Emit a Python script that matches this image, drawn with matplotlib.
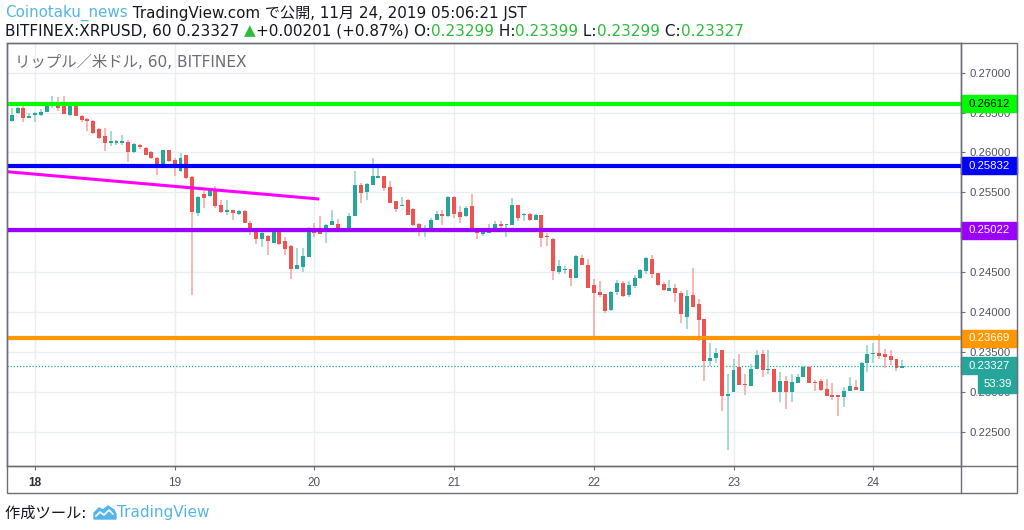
import matplotlib
matplotlib.use("Agg")
import matplotlib.pyplot as plt
import matplotlib.dates as mdates
from matplotlib.patches import Rectangle, Polygon
from matplotlib.lines import Line2D
import numpy as np
import pandas as pd

plt.rcParams['font.family'] = ['DejaVu Sans', 'Noto Sans CJK JP']

# hourly XRPUSD candles, 2019-11-17 20:00 .. 2019-11-24 05:00
opens = [0.26396, 0.26492, 0.26555, 0.26438, 0.26467, 0.26471, 0.26505, 0.26588, 0.26596, 0.26596,
         0.26471, 0.26584, 0.26463, 0.26417, 0.26400, 0.26292, 0.26209, 0.26117, 0.26117, 0.26117,
         0.26125, 0.26004, 0.26096, 0.26054, 0.26009, 0.25929, 0.25846, 0.26026, 0.25900, 0.25763,
         0.25963, 0.25688, 0.25242, 0.25480, 0.25450, 0.25546, 0.25346, 0.25250, 0.25275, 0.25229,
         0.25263, 0.25117, 0.25042, 0.24917, 0.24959, 0.24867, 0.25013, 0.24888, 0.24825, 0.24542,
         0.24563, 0.24692, 0.25054, 0.25034, 0.25034, 0.25088, 0.25109, 0.25030, 0.25034, 0.25209,
         0.25596, 0.25504, 0.25596, 0.25680, 0.25700, 0.25563, 0.25388, 0.25325, 0.25409, 0.25292,
         0.25109, 0.25034, 0.25055, 0.25150, 0.25234, 0.25200, 0.25442, 0.25250, 0.25200, 0.25334,
         0.25034, 0.24984, 0.24992, 0.25034, 0.25109, 0.25096, 0.25096, 0.25346, 0.25213, 0.25234,
         0.25159, 0.25213, 0.24959, 0.24921, 0.24500, 0.24525, 0.24534, 0.24430, 0.24680, 0.24588,
         0.24334, 0.24250, 0.24221, 0.24025, 0.24250, 0.24367, 0.24209, 0.24325, 0.24430, 0.24513,
         0.24667, 0.24484, 0.24346, 0.24263, 0.24296, 0.24242, 0.23942, 0.24209, 0.24096, 0.23917,
         0.23388, 0.23421, 0.23521, 0.22950, 0.23000, 0.23313, 0.23096, 0.23075, 0.23292, 0.23471,
         0.23275, 0.23284, 0.22992, 0.23130, 0.22992, 0.23105, 0.23180, 0.23313, 0.23125, 0.23138,
         0.23034, 0.22959, 0.22959, 0.22930, 0.23005, 0.23063, 0.23013, 0.23367, 0.23471, 0.23492,
         0.23480, 0.23450, 0.23409, 0.23299]
highs = [0.26555, 0.26567, 0.26584, 0.26500, 0.26513, 0.26542, 0.26617, 0.26709, 0.26700, 0.26709,
         0.26617, 0.26600, 0.26471, 0.26430, 0.26409, 0.26305, 0.26304, 0.26263, 0.26159, 0.26221,
         0.26159, 0.26117, 0.26109, 0.26063, 0.26013, 0.25938, 0.26034, 0.26034, 0.25930, 0.25992,
         0.25971, 0.25700, 0.25459, 0.25513, 0.25554, 0.25584, 0.25409, 0.25409, 0.25284, 0.25284,
         0.25275, 0.25138, 0.25054, 0.25054, 0.24971, 0.25034, 0.25025, 0.24938, 0.24834, 0.24805,
         0.24805, 0.25067, 0.25117, 0.25200, 0.25105, 0.25284, 0.25167, 0.25045, 0.25242, 0.25763,
         0.25617, 0.25617, 0.25930, 0.25805, 0.25700, 0.25638, 0.25388, 0.25442, 0.25417, 0.25304,
         0.25117, 0.25096, 0.25180, 0.25263, 0.25284, 0.25450, 0.25450, 0.25325, 0.25325, 0.25484,
         0.25034, 0.25013, 0.25109, 0.25138, 0.25138, 0.25109, 0.25430, 0.25346, 0.25242, 0.25242,
         0.25234, 0.25221, 0.24992, 0.24930, 0.24650, 0.24575, 0.24534, 0.24709, 0.24709, 0.24659,
         0.24409, 0.24388, 0.24221, 0.24263, 0.24396, 0.24388, 0.24388, 0.24459, 0.24534, 0.24692,
         0.24721, 0.24492, 0.24375, 0.24396, 0.24346, 0.24263, 0.24275, 0.24555, 0.24159, 0.23917,
         0.23617, 0.23555, 0.23521, 0.23221, 0.23417, 0.23480, 0.23221, 0.23346, 0.23526, 0.23526,
         0.23526, 0.23284, 0.23250, 0.23200, 0.23221, 0.23221, 0.23325, 0.23325, 0.23146, 0.23159,
         0.23159, 0.23109, 0.22959, 0.23055, 0.23188, 0.23150, 0.23375, 0.23584, 0.23609, 0.23721,
         0.23542, 0.23530, 0.23417, 0.23399]
lows = [0.26388, 0.26484, 0.26388, 0.26430, 0.26380, 0.26463, 0.26505, 0.26555, 0.26525, 0.26480,
        0.26463, 0.26455, 0.26380, 0.26263, 0.26234, 0.26171, 0.26013, 0.26075, 0.26096, 0.26096,
        0.25875, 0.25992, 0.26046, 0.25967, 0.25921, 0.25721, 0.25838, 0.25880, 0.25709, 0.25755,
        0.25671, 0.24212, 0.25200, 0.25304, 0.25442, 0.25304, 0.25242, 0.25221, 0.25159, 0.25221,
        0.25117, 0.24971, 0.24854, 0.24817, 0.24721, 0.24859, 0.24846, 0.24721, 0.24417, 0.24534,
        0.24500, 0.24684, 0.24942, 0.24984, 0.24859, 0.25088, 0.25013, 0.25010, 0.25034, 0.25209,
        0.25367, 0.25409, 0.25596, 0.25680, 0.25513, 0.25367, 0.25254, 0.25325, 0.25213, 0.25084,
        0.24959, 0.24942, 0.25046, 0.25150, 0.25096, 0.25192, 0.25180, 0.25117, 0.25192, 0.25046,
        0.24917, 0.24959, 0.24992, 0.25034, 0.25034, 0.24942, 0.25096, 0.25146, 0.25138, 0.25138,
        0.25159, 0.24817, 0.24825, 0.24396, 0.24471, 0.24471, 0.24325, 0.24430, 0.24584, 0.24304,
        0.23691, 0.24192, 0.23984, 0.24013, 0.24209, 0.24192, 0.24192, 0.24304, 0.24417, 0.24471,
        0.24430, 0.24325, 0.24263, 0.24263, 0.24125, 0.23867, 0.23792, 0.24067, 0.23638, 0.23138,
        0.23325, 0.23367, 0.22763, 0.22275, 0.23000, 0.23084, 0.22959, 0.23075, 0.23284, 0.23180,
        0.23221, 0.22992, 0.22867, 0.22784, 0.22867, 0.23105, 0.23180, 0.23105, 0.23013, 0.23013,
        0.22950, 0.22896, 0.22700, 0.22805, 0.23005, 0.23021, 0.23013, 0.23250, 0.23367, 0.23417,
        0.23304, 0.23334, 0.23263, 0.23299]
closes = [0.26471, 0.26555, 0.26438, 0.26463, 0.26492, 0.26513, 0.26596, 0.26600, 0.26555, 0.26484,
          0.26596, 0.26459, 0.26409, 0.26396, 0.26242, 0.26180, 0.26117, 0.26146, 0.26138, 0.26138,
          0.26004, 0.26104, 0.26063, 0.25971, 0.25929, 0.25846, 0.26026, 0.25888, 0.25825, 0.25930,
          0.25679, 0.25250, 0.25442, 0.25430, 0.25542, 0.25334, 0.25250, 0.25275, 0.25242, 0.25263,
          0.25117, 0.25042, 0.24917, 0.24992, 0.24888, 0.25013, 0.24854, 0.24784, 0.24534, 0.24588,
          0.24700, 0.25054, 0.24992, 0.24984, 0.25096, 0.25138, 0.25034, 0.25040, 0.25209, 0.25596,
          0.25492, 0.25604, 0.25700, 0.25709, 0.25554, 0.25367, 0.25296, 0.25346, 0.25213, 0.25096,
          0.25034, 0.25055, 0.25159, 0.25234, 0.25200, 0.25442, 0.25234, 0.25188, 0.25304, 0.25046,
          0.24992, 0.25013, 0.25034, 0.25109, 0.25084, 0.25109, 0.25346, 0.25180, 0.25225, 0.25159,
          0.25213, 0.24930, 0.24942, 0.24513, 0.24575, 0.24542, 0.24430, 0.24700, 0.24584, 0.24304,
          0.24234, 0.24213, 0.24013, 0.24250, 0.24367, 0.24200, 0.24334, 0.24430, 0.24521, 0.24680,
          0.24471, 0.24334, 0.24275, 0.24296, 0.24234, 0.23971, 0.24200, 0.24067, 0.23905, 0.23388,
          0.23421, 0.23492, 0.22950, 0.22971, 0.23271, 0.23084, 0.23084, 0.23284, 0.23459, 0.23275,
          0.23292, 0.22992, 0.23138, 0.22992, 0.23117, 0.23188, 0.23313, 0.23105, 0.23105, 0.23025,
          0.22950, 0.22938, 0.22930, 0.23013, 0.23075, 0.23025, 0.23367, 0.23480, 0.23484, 0.23450,
          0.23438, 0.23400, 0.23299, 0.23327]

# drawn levels
level_values = [0.26612, 0.25832, 0.25022, 0.23669]
level_colors = ['#00ff00', '#0000ff', '#9b00ff', '#ff9800']
level_text_colors = ['#000000', '#ffffff', '#ffffff', '#ffffff']
trend_times = ['2019-11-17 19:10', '2019-11-20 00:35']
trend_values = [0.25759, 0.25418]
last_price = 0.23327
countdown = '53:39'

UP = '#26a69a'
DOWN = '#ef5350'
BORDER = '#6b6e78'
GRID = '#e9eef2'
TICKC = '#4f5360'

W, H = 1024, 530
fig = plt.figure(figsize=(W / 100, H / 100), dpi=100)


def fx(px):
    return px / W


def fy(py):
    return 1 - py / H


ax = fig.add_axes([fx(7), fy(466), fx(961) - fx(7), fy(43) - fy(466)])

times = pd.date_range('2019-11-17 20:00', periods=len(closes), freq='h')
xs = mdates.date2num(times)
o = np.array(opens)
c = np.array(closes)
up = c >= o
body_col = [UP if u else DOWN for u in up]
wick_col = ['#8fd1ca' if u else '#f5a3a1' for u in up]

ax.vlines(xs, lows, highs, colors=wick_col, lw=1.1, zorder=3)
bottoms = np.minimum(o, c)
heights = np.maximum(np.abs(c - o), 0.00012)
ax.bar(xs, heights, bottom=bottoms, width=0.68 / 24, color=body_col, lw=0, zorder=4)

# horizontal levels and trend line
for v, col in zip(level_values, level_colors):
    ax.axhline(v, color=col, lw=3.0, zorder=5, solid_capstyle='butt')
ax.plot(mdates.date2num(pd.to_datetime(trend_times)), trend_values, color='#ff00ff', lw=2.2, zorder=5)
ax.axhline(last_price, color=UP, lw=0.9, ls=(0, (1, 1.5)), zorder=2)

day18 = mdates.date2num(pd.Timestamp('2019-11-18'))
ax.set_xlim(day18 - 28 / 139.7, day18 + 926 / 139.7)
ax.set_ylim(0.2207, 0.27372)

days = pd.date_range('2019-11-18', '2019-11-24', freq='D')
ax.set_xticks(mdates.date2num(days))
ax.set_xticklabels([str(d.day) for d in days], fontfamily='Liberation Sans', fontsize=8.5, color=TICKC)
ax.get_xticklabels()[0].set_fontweight('bold')
ax.get_xticklabels()[0].set_color('#2a2e39')

# 0.25000 sits fully under the purple level box, so it is left blank as in the chart
yticks = np.arange(0.225, 0.2701, 0.005)
ylabels = ['' if abs(v - 0.25) < 1e-9 else f'{v:.5f}' for v in yticks]
ax.set_yticks(yticks)
ax.set_yticklabels(ylabels, fontfamily='Liberation Sans', fontsize=8.2, color=TICKC)
ax.yaxis.tick_right()
ax.tick_params(axis='y', length=3, width=0.8, color=BORDER, pad=3)
ax.tick_params(axis='x', length=3, width=0.8, color=BORDER, pad=5)
ax.grid(True, color=GRID, lw=1, zorder=0)
ax.set_axisbelow(True)
for s in ax.spines.values():
    s.set_color(BORDER)
    s.set_linewidth(1)

# price scale labels
tr = ax.get_yaxis_transform()
box_w = 56 / 954
box_h = 17 / 7978
for v, col, tc in zip(level_values + [last_price], level_colors + [UP], level_text_colors + ['#ffffff']):
    ax.add_patch(Rectangle((1, v - box_h / 2), box_w, box_h, transform=tr, color=col,
                           clip_on=False, zorder=10))
    ax.text(1 + 8 / 954, v, f'{v:.5f}', transform=tr, color=tc, fontsize=8.2,
            fontfamily='Liberation Sans', va='center', ha='left', zorder=11, clip_on=False)
cd_v = 0.23098
ax.add_patch(Rectangle((1 + 17 / 954, cd_v - 18 / 7978 / 2), 39 / 954, 18 / 7978, transform=tr,
                       color=UP, clip_on=False, zorder=10))
ax.text(1 + 36.5 / 954, cd_v, countdown, transform=tr, color='white', fontsize=8.2,
        fontfamily='Liberation Sans', va='center', ha='center', zorder=11, clip_on=False)

# panel borders
fig.add_artist(Rectangle((fx(7), fy(493)), fx(1017) - fx(7), fy(43) - fy(493), fill=False,
                         ec=BORDER, lw=1, transform=fig.transFigure))
fig.add_artist(Line2D([fx(961), fx(961)], [fy(493), fy(43)], color=BORDER, lw=1,
                      transform=fig.transFigure))
fig.add_artist(Line2D([fx(7), fx(1017)], [fy(466), fy(466)], color=BORDER, lw=1,
                      transform=fig.transFigure))

ax.text(8 / 954, 1 - 19 / 423, 'リップル／米ドル, 60, BITFINEX', transform=ax.transAxes,
        fontsize=11.1, color='#6a6d78', va='center', ha='left')

fig.canvas.draw()
renderer = fig.canvas.get_renderer()


def segments(x_px, y_px, parts, size):
    x = fx(x_px)
    for s, col in parts:
        t = fig.text(x, fy(y_px), s, color=col, fontsize=size, va='center', ha='left')
        bb = t.get_window_extent(renderer)
        x = bb.x1 / W


BLACK = '#131722'
GREEN = '#2dbb3c'
BLUE = '#54b6e6'
segments(5, 13, [('Coinotaku_news', BLUE),
                 (' TradingView.com で公開, 11月 24, 2019 05:06:21 JST', BLACK)], 10.9)
segments(5, 31, [('BITFINEX:XRPUSD, 60 0.23327 ', BLACK), ('▲', GREEN),
                 ('+0.00201 (+0.87%) O:', BLACK), ('0.23299', GREEN), (' H:', BLACK),
                 ('0.23399', GREEN), (' L:', BLACK), ('0.23299', GREEN), (' C:', BLACK),
                 ('0.23327', GREEN)], 11)

# footer with a small TradingView cloud mark
segments(5, 513, [('作成ツール: ', BLACK)], 11)
logo = [(94, 519), (94, 513), (99, 508), (103, 510), (108, 506), (114, 510), (116, 514), (116, 519)]
fig.add_artist(Polygon([(fx(a), fy(b)) for a, b in logo], closed=True, color=BLUE,
                       transform=fig.transFigure))
zig = [(96, 516), (100, 512), (104, 515), (109, 510), (113, 514)]
fig.add_artist(Line2D([fx(a) for a, b in zig], [fy(b) for a, b in zig], color='white', lw=1.2,
                      transform=fig.transFigure))
segments(117, 513, [('TradingView', BLUE)], 11)

fig.savefig('out.png', dpi=100)
